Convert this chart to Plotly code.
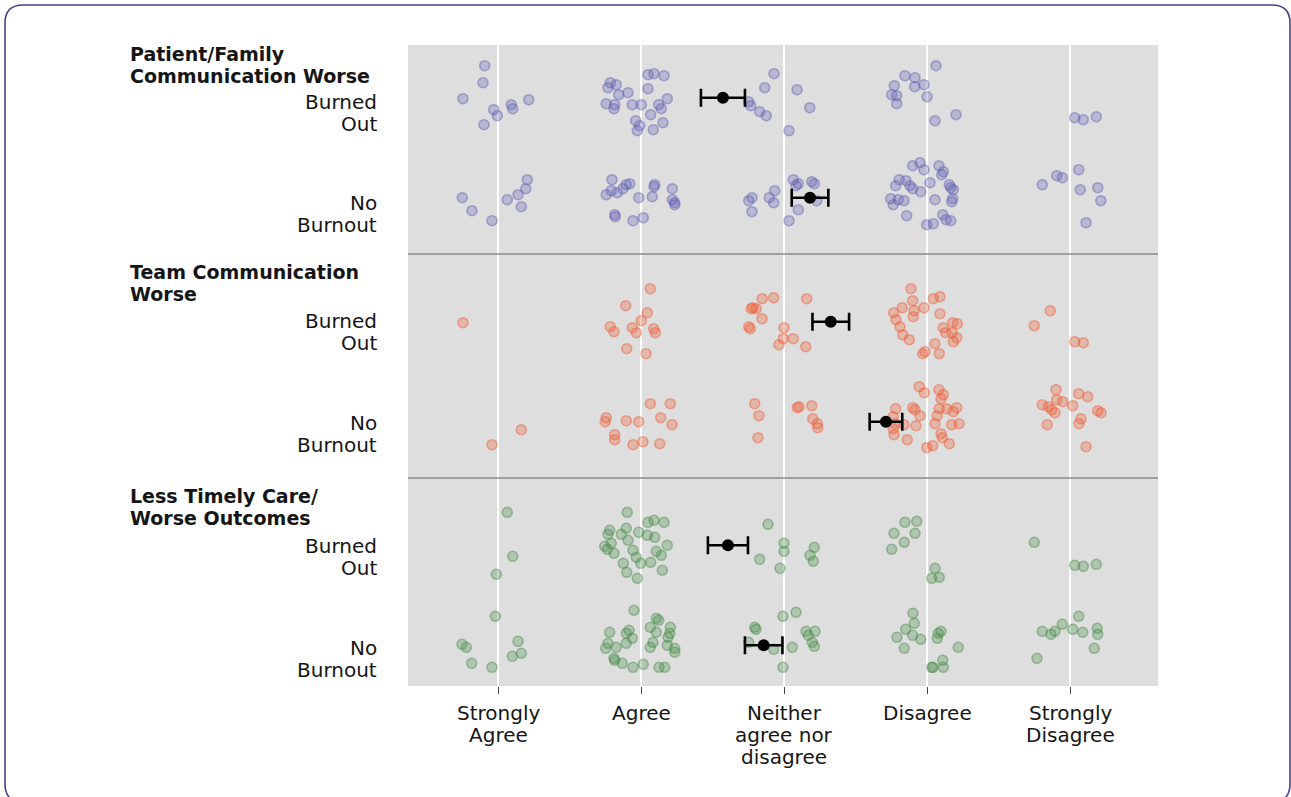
import plotly.graph_objects as go
from plotly.subplots import make_subplots

# Response scale: 1 = Strongly Agree ... 5 = Strongly Disagree
categories = ["Strongly<br>Agree", "Agree", "Neither<br>agree nor<br>disagree", "Disagree", "Strongly<br>Disagree"]
panel_titles = ["Patient/Family<br>Communication Worse", "Team Communication<br>Worse", "Less Timely Care/<br>Worse Outcomes"]
row_names = ["Burned<br>Out", "No<br>Burnout"]

# Jittered responses (x) and row positions (y: 0 = Burned Out, 1 = No Burnout)
pf_burned_x = [0.907, 0.895, 0.755, 0.970, 0.995, 1.093, 1.103, 1.215, 0.902,
               2.049, 2.091, 2.161, 1.785, 1.769, 1.827, 2.049, 1.844, 1.909, 2.184, 1.757, 1.816, 1.811, 1.939, 2.002, 2.124, 2.142, 2.068, 1.963, 1.991, 1.974, 2.086, 2.154,
               2.930, 2.865, 3.091, 2.753, 2.767, 3.180, 2.830, 2.876, 3.035,
               4.063, 3.846, 3.916, 3.771, 3.914, 3.979, 3.753, 3.788, 4.000, 3.788, 4.203, 4.056,
               5.033, 5.093, 5.184]
pf_burned_y = [-0.32, -0.15, 0.01, 0.12, 0.18, 0.07, 0.11, 0.02, 0.27,
               -0.23, -0.24, -0.22, -0.15, -0.10, -0.13, -0.09, -0.03, -0.05, 0.01, 0.06, 0.07, 0.11, 0.07, 0.07, 0.07, 0.11, 0.17, 0.23, 0.28, 0.33, 0.32, 0.25,
               -0.24, -0.10, -0.08, 0.04, 0.08, 0.10, 0.14, 0.18, 0.33,
               -0.32, -0.22, -0.20, -0.12, -0.11, -0.13, -0.03, -0.02, -0.01, 0.06, 0.17, 0.23,
               0.20, 0.22, 0.19]
pf_none_x = [0.750, 0.818, 0.958, 1.065, 1.140, 1.163, 1.194, 1.205,
             1.797, 1.792, 1.757, 1.834, 1.874, 1.897, 1.921, 1.984, 2.096, 2.091, 2.079, 2.219, 2.219, 2.236, 2.236, 1.816, 1.820, 1.944, 2.016,
             2.753, 2.776, 2.776, 2.897, 2.935, 2.928, 3.035, 3.065, 3.100, 3.084, 3.194, 3.212, 3.229, 3.100,
             3.951, 3.900, 3.979, 4.084, 4.114, 4.103, 3.806, 3.853, 3.781, 3.881, 3.900, 3.956, 4.021, 4.156, 4.166, 4.184, 3.746, 3.764, 3.799, 3.839, 4.056, 4.180, 4.173, 3.858, 3.998, 4.044, 4.110, 4.133, 4.166,
             4.806, 4.907, 4.946, 5.061, 5.072, 5.194, 5.215, 5.112]
pf_none_y = [1.00, 1.13, 1.23, 1.02, 0.97, 1.09, 0.91, 0.82,
             0.82, 0.93, 0.97, 0.95, 0.91, 0.87, 0.86, 1.00, 0.87, 0.89, 0.99, 0.91, 1.02, 1.05, 1.07, 1.17, 1.19, 1.23, 1.20,
             1.03, 1.00, 1.14, 1.00, 0.93, 1.05, 1.23, 0.82, 0.86, 0.88, 0.84, 0.86, 1.03, 1.12,
             0.65, 0.68, 0.72, 0.68, 0.74, 0.77, 0.82, 0.83, 0.88, 0.88, 0.91, 0.94, 0.85, 0.87, 0.90, 0.92, 1.01, 1.07, 1.02, 1.03, 1.02, 1.01, 1.04, 1.18, 1.27, 1.26, 1.17, 1.22, 1.23,
             0.87, 0.78, 0.80, 0.72, 0.92, 0.90, 1.03, 1.25]

team_burned_x = [0.755,
                 2.065, 1.893, 2.044, 2.002, 1.785, 1.811, 1.939, 1.967, 2.089, 2.100, 1.900, 2.035,
                 2.771, 2.783, 2.806, 2.848, 2.928, 2.846, 2.753, 2.764, 3.000, 2.995, 2.965, 3.159, 3.065, 3.152,
                 3.888, 3.900, 4.044, 4.091, 3.827, 3.767, 3.909, 3.979, 3.904, 4.091, 3.783, 3.811, 4.114, 4.180, 4.212, 4.131, 4.177, 3.830, 3.876, 4.208, 4.184, 4.056, 3.986, 3.970, 4.086,
                 4.862, 4.750, 5.033, 5.093]
team_burned_y = [0.01,
                 -0.33, -0.16, -0.09, -0.01, 0.05, 0.10, 0.06, 0.11, 0.07, 0.11, 0.27, 0.32,
                 -0.13, -0.14, -0.13, -0.23, -0.24, -0.03, 0.05, 0.07, 0.06, 0.17, 0.23, -0.23, 0.17, 0.25,
                 -0.33, -0.21, -0.23, -0.25, -0.14, -0.09, -0.11, -0.14, -0.05, -0.08, -0.02, 0.05, 0.06, 0.01, 0.02, 0.11, 0.11, 0.13, 0.18, 0.16, 0.20, 0.22, 0.30, 0.32, 0.32,
                 -0.11, 0.04, 0.20, 0.21]
team_none_x = [0.958, 1.163,
               2.065, 2.205, 1.757, 1.750, 1.897, 1.984, 2.138, 2.217, 1.816, 1.816, 1.944, 2.014, 2.131,
               2.795, 2.825, 2.818, 3.093, 3.105, 3.194, 3.201, 3.233, 3.236,
               3.946, 3.981, 4.084, 4.114, 4.098, 3.781, 3.900, 3.916, 3.951, 4.086, 4.138, 4.208, 4.184, 3.764, 3.776, 3.839, 3.764, 3.923, 4.056, 4.072, 4.173, 4.224, 3.769, 3.862, 4.098, 4.107, 4.156, 3.998, 4.040,
               4.902, 4.806, 4.848, 4.872, 4.895, 4.949, 4.907, 4.841, 5.019, 5.061, 5.124, 5.077, 5.063, 5.194, 5.217, 5.112]
team_none_y = [1.23, 1.08,
               0.82, 0.82, 0.96, 1.00, 0.99, 1.00, 0.96, 1.03, 1.13, 1.18, 1.23, 1.20, 1.22,
               0.82, 0.94, 1.16, 0.86, 0.85, 0.84, 0.97, 1.02, 1.06,
               0.65, 0.71, 0.68, 0.73, 0.77, 0.87, 0.86, 0.88, 0.94, 0.87, 0.87, 0.86, 0.90, 0.95, 1.02, 1.03, 1.07, 1.04, 1.02, 0.94, 1.03, 1.02, 1.13, 1.18, 1.12, 1.16, 1.22, 1.26, 1.24,
               0.68, 0.83, 0.85, 0.88, 0.91, 0.80, 0.78, 1.03, 0.84, 0.72, 0.75, 0.97, 1.02, 0.89, 0.91, 1.25]

care_burned_x = [1.065, 1.103, 0.988,
                 1.904, 2.049, 2.091, 2.161, 1.781, 1.769, 1.897, 1.862, 1.984, 2.044, 2.096, 1.909, 1.792, 1.746, 1.765, 1.811, 1.944, 2.107, 2.142, 2.184, 1.967, 1.998, 2.068, 1.876, 1.900, 2.149, 1.974,
                 2.888, 3.000, 3.000, 2.830, 2.972, 3.212, 3.182, 3.205,
                 3.846, 3.928, 3.769, 3.916, 3.841, 3.753, 4.056, 4.033, 4.086,
                 4.750, 5.033, 5.093, 5.184]
care_burned_y = [-0.33, 0.11, 0.29,
                 -0.33, -0.23, -0.25, -0.23, -0.15, -0.11, -0.17, -0.11, -0.13, -0.10, -0.08, -0.05, -0.02, 0.01, 0.04, 0.08, 0.05, 0.06, 0.10, 0.00, 0.12, 0.18, 0.17, 0.18, 0.27, 0.25, 0.33,
                 -0.21, -0.02, 0.06, 0.14, 0.23, 0.02, 0.10, 0.16,
                 -0.23, -0.24, -0.12, -0.12, -0.03, 0.04, 0.23, 0.33, 0.32,
                 -0.03, 0.20, 0.21, 0.19]
care_none_x = [0.981, 0.748, 0.778, 1.140, 1.163, 1.100, 0.816, 0.958,
               1.951, 2.107, 2.124, 1.781, 1.897, 1.916, 1.939, 2.065, 2.107, 2.205, 2.201, 2.189, 1.897, 2.084, 2.065, 2.184, 2.236, 2.236, 1.769, 1.753, 1.827, 1.811, 1.816, 1.869, 1.944, 2.016, 2.126, 2.166,
               2.993, 2.795, 2.804, 2.753, 2.928, 2.993, 3.084, 3.154, 3.170, 3.217, 3.198, 3.212, 3.058,
               3.902, 3.911, 3.851, 3.790, 3.900, 3.956, 3.841, 4.098, 4.079, 4.072, 4.219, 4.110, 4.033, 4.114, 4.042,
               4.806, 4.867, 4.895, 4.946, 5.061, 5.019, 5.089, 5.191, 5.194, 5.170, 4.769]
care_none_y = [0.71, 0.99, 1.02, 0.96, 1.08, 1.11, 1.18, 1.22,
               0.65, 0.73, 0.75, 0.87, 0.88, 0.85, 0.93, 0.82, 0.87, 0.82, 0.88, 0.92, 0.98, 0.97, 1.02, 1.00, 1.03, 1.07, 0.98, 1.03, 1.02, 1.13, 1.15, 1.18, 1.22, 1.19, 1.22, 1.22,
               0.71, 0.82, 0.84, 0.97, 1.04, 1.22, 0.67, 0.86, 0.90, 0.86, 0.97, 1.01, 1.02,
               0.68, 0.78, 0.84, 0.92, 0.90, 0.94, 1.03, 0.86, 0.88, 0.93, 1.02, 1.15, 1.22, 1.22, 1.22,
               0.86, 0.89, 0.86, 0.79, 0.71, 0.84, 0.87, 0.83, 0.89, 1.03, 1.13]

# Group means with their error half-widths, one entry per panel
mean_burned = [2.573, 3.327, 2.608]
err_burned = [0.154, 0.128, 0.140]
mean_none = [3.182, 3.713, 2.858]
err_none = [0.128, 0.114, 0.131]

panel_colors = ["95,95,180", "240,90,50", "70,140,70"]
point_sets = [
    (pf_burned_x, pf_burned_y, pf_none_x, pf_none_y),
    (team_burned_x, team_burned_y, team_none_x, team_none_y),
    (care_burned_x, care_burned_y, care_none_x, care_none_y),
]

# Pixel geometry of the figure
W, H = 1291, 797
L, R, T, B = 408, 1158, 45, 686
panel_px = [209, 224, 208]
row_centers_px = [97.7, 321.7, 545.3]
px_per_row = 100.0

fig = make_subplots(rows=3, cols=1, shared_xaxes=True, vertical_spacing=0,
                    row_heights=panel_px)

font_main = "'DejaVu Sans', 'Open Sans', Arial, sans-serif"
TEXT_SIZE = 20
TITLE_SIZE = 19
LINE_STEP = 22

top = T
for i, (bx, by, nx, ny) in enumerate(point_sets):
    r = i + 1
    rgb = panel_colors[i]
    for xs, ys in ((bx, by), (nx, ny)):
        fig.add_trace(go.Scatter(
            x=xs, y=ys, mode="markers", showlegend=False, hoverinfo="skip",
            marker=dict(size=10, color=f"rgba({rgb},0.30)",
                        line=dict(color=f"rgba({rgb},0.45)", width=1.6)),
        ), row=r, col=1)
    fig.add_trace(go.Scatter(
        x=[mean_burned[i], mean_none[i]], y=[0, 1], mode="markers", showlegend=False,
        marker=dict(size=12, color="black"),
        error_x=dict(type="data", array=[err_burned[i], err_none[i]],
                     color="black", thickness=2.6, width=9),
    ), row=r, col=1)
    # y range in row units derived from panel pixel extents
    y_top = (top - row_centers_px[i]) / px_per_row
    y_bot = (top + panel_px[i] - row_centers_px[i]) / px_per_row
    top += panel_px[i]
    fig.update_yaxes(range=[y_bot, y_top], showticklabels=False, showgrid=False,
                     zeroline=False, ticks="", row=r, col=1)

x_range = [1 + (L - 498) / 143, 1 + (R - 498) / 143]
for r in (1, 2, 3):
    fig.update_xaxes(range=x_range, tickvals=[1, 2, 3, 4, 5], showticklabels=False,
                     showgrid=True, gridcolor="white", gridwidth=1.6, zeroline=False,
                     showline=False, ticks="", row=r, col=1)
fig.update_xaxes(ticks="outside", ticklen=7, tickwidth=1.3, tickcolor="#444", row=3, col=1)


def px_x(p):
    return (p - L) / (R - L)


def px_y(p):
    return (B - p) / (B - T)


annotations = []


def add_lines(text, x, xref, first_y, anchor, bold=False, size=TEXT_SIZE):
    # One annotation per line keeps the line spacing tight
    for k, line in enumerate(text.split("<br>")):
        annotations.append(dict(
            text=f"<b>{line}</b>" if bold else line, xref=xref, yref="paper",
            x=x, y=px_y(first_y + k * LINE_STEP - 1), xanchor=anchor, yanchor="middle",
            borderpad=0, showarrow=False,
            font=dict(family=font_main, size=size, color="#151515")))


title_first_px = [55, 273, 497]
row_first_px = [(103, 204), (322, 424), (547, 649)]
for i in range(3):
    add_lines(panel_titles[i], px_x(129), "paper", title_first_px[i], "left", bold=True, size=TITLE_SIZE)
    for j in range(2):
        add_lines(row_names[j], px_x(378), "paper", row_first_px[i][j], "right")

for k, cat in enumerate(categories):
    add_lines(cat, k + 1, "x3", 714, "center")

# Rounded frame around the whole graphic
x0, y0, x1, y1, rad = 5, 5, 1290, 802, 18
frame = (f"M {px_x(x0 + rad)} {px_y(y0)} L {px_x(x1 - rad)} {px_y(y0)} "
         f"Q {px_x(x1)} {px_y(y0)} {px_x(x1)} {px_y(y0 + rad)} "
         f"L {px_x(x1)} {px_y(y1 - rad)} Q {px_x(x1)} {px_y(y1)} {px_x(x1 - rad)} {px_y(y1)} "
         f"L {px_x(x0 + rad)} {px_y(y1)} Q {px_x(x0)} {px_y(y1)} {px_x(x0)} {px_y(y1 - rad)} "
         f"L {px_x(x0)} {px_y(y0 + rad)} Q {px_x(x0)} {px_y(y0)} {px_x(x0 + rad)} {px_y(y0)} Z")

shapes = [dict(type="path", xref="paper", yref="paper", path=frame,
               line=dict(color="#4a3f8f", width=1.6), fillcolor="rgba(0,0,0,0)", layer="above")]
# Separators between panels
for yd in ("y2 domain", "y3 domain"):
    shapes.append(dict(type="line", xref="paper", yref=yd, x0=0, x1=1, y0=1, y1=1,
                       line=dict(color="#8a8a8a", width=1.6), layer="above"))

fig.update_layout(
    width=W, height=H,
    margin=dict(l=L, r=W - R, t=T, b=H - B),
    paper_bgcolor="white", plot_bgcolor="#dedede",
    annotations=annotations, shapes=shapes,
    font=dict(family=font_main),
)

fig.write_html("out.html")
